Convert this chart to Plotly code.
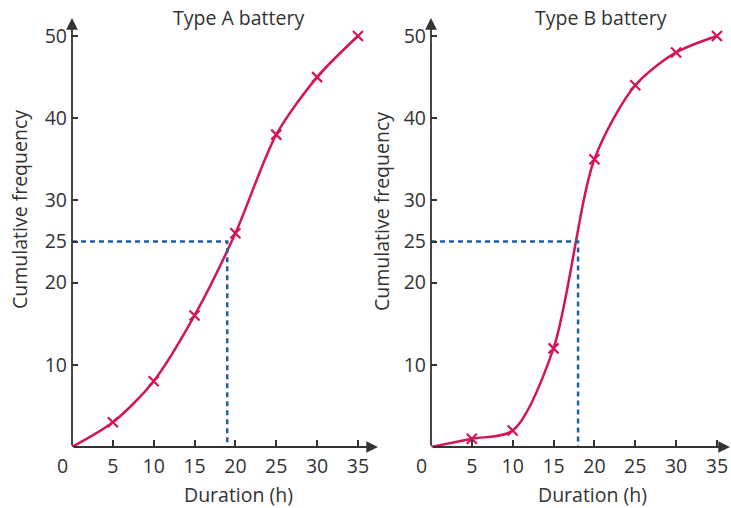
"""Cumulative frequency curves for two battery types."""

import plotly.graph_objects as go
from plotly.subplots import make_subplots

# Data
hours = [0, 5, 10, 15, 20, 25, 30, 35]
cum_freq_a = [0, 3, 8, 16, 26, 38, 45, 50]
cum_freq_b = [0, 1, 2, 12, 35, 44, 48, 50]
median_freq = 25
median_a = 19.0
median_b = 18.0
titles = ["Type A battery", "Type B battery"]
x_ticks = [5, 10, 15, 20, 25, 30, 35]
y_ticks = [10, 20, 25, 30, 40, 50]

W, H = 731, 508
CURVE = "#d4145a"
DASH = "#1f5fa8"
INK = "#333333"
FONT = "Open Sans"
FS = 19.5

PX_PER_X = 8.17
PX_PER_Y = 8.22
panels = [
    {"left": 72, "right": 378, "data": cum_freq_a, "median": median_a},
    {"left": 431, "right": 731, "data": cum_freq_b, "median": median_b},
]
TOP, BOTTOM = 18, 447


def px(x):
    return x / W


def py(y):
    return 1 - y / H


fig = make_subplots(rows=1, cols=2)

annotations = []
for i, p in enumerate(panels):
    col = i + 1
    fig.add_trace(go.Scatter(
        x=hours, y=p["data"], mode="lines",
        line=dict(color=CURVE, width=2.5, shape="spline", smoothing=0.8),
        hoverinfo="skip", showlegend=False,
    ), row=1, col=col)
    fig.add_trace(go.Scatter(
        x=hours[1:], y=p["data"][1:], mode="markers",
        marker=dict(symbol="x-thin", size=10, line=dict(color=CURVE, width=2.2)),
        showlegend=False,
    ), row=1, col=col)
    # median guide lines
    fig.add_trace(go.Scatter(
        x=[0, p["median"], p["median"]], y=[median_freq, median_freq, 0],
        mode="lines", line=dict(color=DASH, width=2.5, dash="5px,4px"),
        hoverinfo="skip", showlegend=False,
    ), row=1, col=col)

    xs = "" if col == 1 else str(col)
    fig.update_layout({
        f"xaxis{xs}": dict(
            domain=[px(p["left"]), px(p["right"])],
            range=[0, (p["right"] - p["left"]) / PX_PER_X],
            tickvals=x_ticks, ticks="inside", ticklen=7, tickwidth=1.5,
            tickcolor=INK, showline=False, showgrid=False, zeroline=False,
            tickfont=dict(family=FONT, size=FS, color=INK),
            ticklabelstandoff=5,
        ),
        f"yaxis{xs}": dict(
            domain=[py(BOTTOM), py(TOP)],
            range=[0, (BOTTOM - TOP) / PX_PER_Y],
            tickvals=y_ticks, ticks="inside", ticklen=6, tickwidth=1.5,
            tickcolor=INK, showline=False, showgrid=False, zeroline=False,
            tickfont=dict(family=FONT, size=FS, color=INK),
            ticklabelstandoff=4,
        ),
    })

    # axes drawn as arrows
    x_tip = p["right"] + (0 if col == 1 else 3)
    annotations.append(dict(
        xref="paper", yref="paper", x=px(x_tip), y=py(BOTTOM),
        ax=-(x_tip - p["left"]), ay=0, showarrow=True, text="",
        arrowhead=2, arrowsize=1.3, arrowwidth=1.8, arrowcolor=INK, standoff=0,
    ))
    annotations.append(dict(
        xref="paper", yref="paper", x=px(p["left"]), y=py(TOP),
        ax=0, ay=BOTTOM - TOP, showarrow=True, text="",
        arrowhead=2, arrowsize=1.3, arrowwidth=1.8, arrowcolor=INK, standoff=0,
    ))
    # origin label
    annotations.append(dict(
        xref="paper", yref="paper", x=px(p["left"] - 10), y=py(465),
        xanchor="center", yanchor="middle",
        text="0", showarrow=False, font=dict(family=FONT, size=FS, color=INK),
    ))

title_pos = [(238, 17), (601, 17)]
ylab_pos = [(20, 210), (382, 212)]
xlab_pos = [(238, 494), (592, 494)]
for i in range(2):
    annotations.append(dict(
        xref="paper", yref="paper", x=px(title_pos[i][0]), y=py(title_pos[i][1]),
        xanchor="center", yanchor="middle",
        text=titles[i], showarrow=False, font=dict(family=FONT, size=FS, color=INK),
    ))
    annotations.append(dict(
        xref="paper", yref="paper", x=px(ylab_pos[i][0]), y=py(ylab_pos[i][1]),
        xanchor="center", yanchor="middle",
        text="Cumulative frequency", textangle=-90, showarrow=False,
        font=dict(family=FONT, size=FS, color=INK),
    ))
    annotations.append(dict(
        xref="paper", yref="paper", x=px(xlab_pos[i][0]), y=py(xlab_pos[i][1]),
        xanchor="center", yanchor="middle",
        text="Duration (h)", showarrow=False, font=dict(family=FONT, size=FS, color=INK),
    ))

fig.update_layout(
    width=W, height=H,
    margin=dict(l=0, r=0, t=0, b=0),
    paper_bgcolor="white", plot_bgcolor="white",
    annotations=annotations,
    showlegend=False,
)

# drop the default page margin so the figure fills the window
fig.write_html(
    "out.html",
    config={"displayModeBar": False},
    post_script="document.body.style.margin = '0';",
)
